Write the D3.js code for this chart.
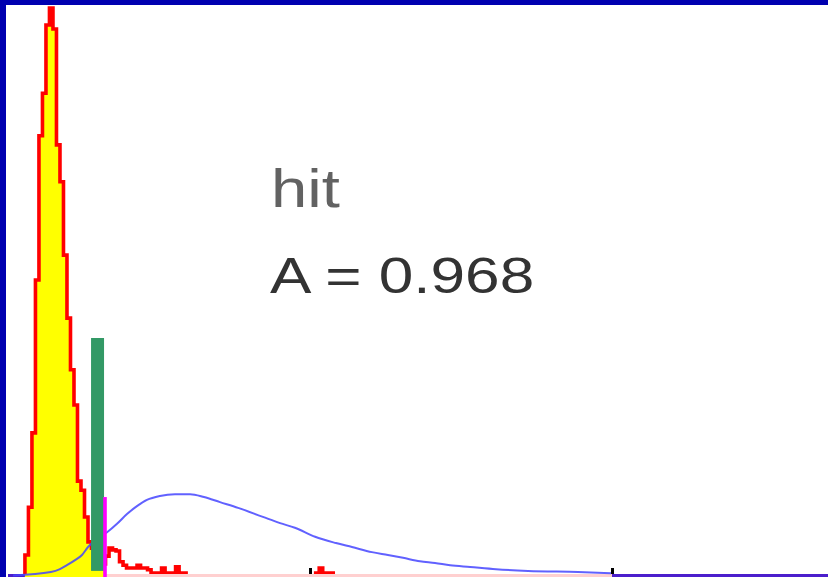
<!DOCTYPE html>
<html>
<head>
    <title>hit</title>
    <script src="https://cdnjs.cloudflare.com/ajax/libs/d3/7.8.5/d3.min.js"></script>
    <style>
        body { margin: 0; background: #fff; }
        svg { display: block; }
        text { font-family: "Liberation Sans", Arial, sans-serif; }
    </style>
</head>
<body>
    <div class="chart"></div>
    <script>
        // histogram (noise) - proportion of peak per bin
        const binStart = 0.0561;
        const binWidth = 0.0116;
        const histValues = [
            0.037, 0.121, 0.252, 0.521, 0.775, 0.850, 0.970, 1.000, 0.963, 0.759,
            0.694, 0.565, 0.454, 0.363, 0.301, 0.167, 0.151, 0.104, 0.060, 0.049,
            0.042, 0.035, 0.021, 0.035, 0.049, 0.046, 0.044, 0.025, 0.019, 0.014,
            0.014, 0.014, 0.019, 0.014, 0.014, 0.011, 0.005, 0.005, 0.005, 0.014,
            0.005, 0.005, 0.005, 0.016, 0.005, 0.005, 0, 0, 0, 0,
            0, 0, 0, 0, 0, 0, 0, 0, 0, 0,
            0, 0, 0, 0, 0, 0, 0, 0, 0, 0,
            0, 0, 0, 0, 0, 0, 0, 0, 0, 0,
            0, 0, 0, 0.005, 0.014, 0.005, 0.005, 0.005
        ];
        const histEnd = 2.0;

        // signal density curve
        const curveX = [0.017, 0.142, 0.172, 0.195, 0.222, 0.245, 0.265, 0.295, 0.328, 0.361,
            0.394, 0.427, 0.460, 0.503, 0.553, 0.603, 0.649, 0.702, 0.762, 0.844,
            0.901, 0.950, 1.017, 1.086, 1.139, 1.205, 1.258, 1.308, 1.364, 1.414,
            1.464, 1.530, 1.616, 1.722, 1.887, 1.997];
        const curveY = [0.001, 0.007, 0.012, 0.019, 0.028, 0.037, 0.051, 0.065, 0.077, 0.092,
            0.109, 0.123, 0.134, 0.141, 0.144, 0.144, 0.139, 0.130, 0.120, 0.104,
            0.093, 0.085, 0.069, 0.058, 0.051, 0.042, 0.037, 0.032, 0.026, 0.023,
            0.019, 0.016, 0.012, 0.009, 0.007, 0.005];

        // green bar and criterion
        const barRange = [0.275, 0.318];
        const barHeight = [0.009, 0.419];
        const criterion = [0.3212];
        const criterionHeight = [0.139];

        const tickVals = [1, 2];
        const labels = ['hit', 'A = 0.968'];

        const W = 828, H = 577;

        const svg = d3.select('.chart')
            .append('svg')
            .attr('width', W)
            .attr('height', H);

        const x = d3.scaleLinear().domain([0, 2]).range([8, 612]);
        const y = d3.scaleLinear().domain([0, 1]).range([576, 8]);

        const defs = svg.append('defs');
        defs.append('clipPath').attr('id', 'clipHist')
            .append('rect')
            .attr('x', 0).attr('y', 0)
            .attr('width', W).attr('height', y(0) - 2);
        defs.append('clipPath').attr('id', 'clipYellow')
            .append('rect')
            .attr('x', x(0)).attr('y', 0)
            .attr('width', x(criterion[0]) - x(0)).attr('height', H);

        // histogram points
        const bins = histValues.map((v, i) => ({ x0: binStart + i * binWidth, v: v }));
        const lastX1 = binStart + histValues.length * binWidth;
        const stepPts = [[binStart, 0]]
            .concat(bins.map(b => [b.x0, b.v]))
            .concat([[lastX1, histValues[histValues.length - 1]], [lastX1, 0]]);

        // x axis line
        svg.append('line')
            .attr('x1', x(0)).attr('x2', W)
            .attr('y1', y(0)).attr('y2', y(0))
            .attr('stroke', '#4b1ecc')
            .attr('stroke-width', 4);

        // histogram baseline
        svg.append('line')
            .attr('x1', x(binStart)).attr('x2', x(histEnd))
            .attr('y1', y(0)).attr('y2', y(0))
            .attr('stroke', '#ffd0d0')
            .attr('stroke-width', 4);

        // yellow area
        svg.append('path')
            .datum(stepPts)
            .attr('clip-path', 'url(#clipYellow)')
            .attr('fill', '#ffff00')
            .attr('d', d3.area()
                .x(d => x(d[0]))
                .y0(H)
                .y1(d => y(d[1]))
                .curve(d3.curveStepAfter));

        // red histogram outline
        svg.append('path')
            .datum(stepPts)
            .attr('clip-path', 'url(#clipHist)')
            .attr('fill', 'none')
            .attr('stroke', '#ff0000')
            .attr('stroke-width', 3.6)
            .attr('d', d3.line()
                .x(d => x(d[0]))
                .y(d => y(d[1]))
                .curve(d3.curveStepAfter));

        // blue curve
        svg.append('path')
            .datum(curveX.map((v, i) => [v, curveY[i]]))
            .attr('fill', 'none')
            .attr('stroke', '#4545ff')
            .attr('stroke-opacity', 0.85)
            .attr('stroke-width', 2)
            .attr('d', d3.line()
                .x(d => x(d[0]))
                .y(d => y(d[1]))
                .curve(d3.curveMonotoneX));

        // green bar
        svg.append('rect')
            .attr('x', x(barRange[0]))
            .attr('width', x(barRange[1]) - x(barRange[0]))
            .attr('y', y(barHeight[1]))
            .attr('height', y(barHeight[0]) - y(barHeight[1]))
            .attr('fill', '#339966');

        // criterion line
        svg.selectAll('.crit')
            .data(criterion)
            .enter()
            .append('line')
            .attr('class', 'crit')
            .attr('x1', d => x(d)).attr('x2', d => x(d))
            .attr('y1', (d, i) => y(criterionHeight[i]))
            .attr('y2', H)
            .attr('stroke', '#ff00ff')
            .attr('stroke-width', 3.6);

        // ticks
        const axis = svg.append('g')
            .attr('transform', `translate(0,${y(0) - 2})`)
            .call(d3.axisBottom(x)
                .tickValues(tickVals)
                .tickSizeInner(-6)
                .tickSizeOuter(0)
                .tickFormat(''));
        axis.select('.domain').remove();
        axis.selectAll('.tick line')
            .attr('stroke', '#000')
            .attr('stroke-width', 3);

        // frame (top and left)
        svg.append('rect').attr('x', 0).attr('y', 0).attr('width', W).attr('height', 5).attr('fill', '#0000b0');
        svg.append('rect').attr('x', 0).attr('y', 0).attr('width', 6).attr('height', H).attr('fill', '#0000b0');

        // labels
        svg.append('text')
            .attr('transform', 'translate(271,207) scale(1.23,1)')
            .style('font-size', '53px')
            .attr('fill', '#626262')
            .text(labels[0]);

        svg.append('text')
            .attr('transform', 'translate(270,293) scale(1.23,1)')
            .style('font-size', '50.5px')
            .attr('fill', '#333333')
            .text(labels[1]);
    </script>
</body>
</html>
